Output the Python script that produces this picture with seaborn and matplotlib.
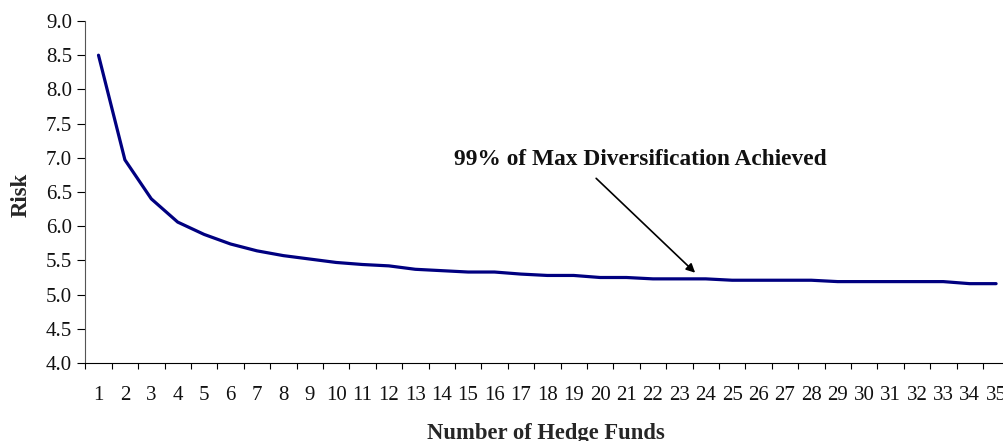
import matplotlib
matplotlib.use("Agg")
import matplotlib.pyplot as plt
import numpy as np
import pandas as pd
import seaborn as sns

# Portfolio risk as the number of hedge funds grows
n_funds = list(range(1, 36))
risk = [8.50, 6.97, 6.40, 6.06, 5.88, 5.74, 5.64, 5.57, 5.52, 5.47,
        5.44, 5.42, 5.37, 5.35, 5.33, 5.33, 5.30, 5.28, 5.28, 5.25,
        5.25, 5.23, 5.23, 5.23, 5.21, 5.21, 5.21, 5.21, 5.19, 5.19,
        5.19, 5.19, 5.19, 5.16, 5.16]
y_ticks = [4.0, 4.5, 5.0, 5.5, 6.0, 6.5, 7.0, 7.5, 8.0, 8.5, 9.0]
note_text = "99% of Max Diversification Achieved"

sns.set_style("white")
plt.rcParams["font.family"] = ["Liberation Serif", "DejaVu Serif"]

df = pd.DataFrame({"pos": np.arange(len(n_funds)), "funds": n_funds, "risk": risk})

fig = plt.figure(figsize=(10.04, 4.41), dpi=100)
W, H = 1004, 441
left_px, bottom_px, top_px = 85.3, 363, 21
cat_w = 26.4
ax_w = cat_w * len(n_funds)
ax_h = bottom_px - top_px
ax = fig.add_axes([left_px / W, 1 - bottom_px / H, ax_w / W, ax_h / H])

sns.lineplot(data=df, x="pos", y="risk", ax=ax, color="#000080",
             linewidth=2.3, legend=False)

ax.set_xlim(-0.5, len(n_funds) - 0.5)
ax.set_ylim(4.0, 9.0)

# category labels sit between the tick marks
ax.set_xticks(np.arange(len(n_funds) + 1) - 0.5)
ax.set_xticklabels([])
ax.set_xticks(np.arange(len(n_funds)), minor=True)
ax.set_xticklabels([str(v) for v in n_funds], minor=True, fontsize=15)
ax.tick_params(axis="x", which="major", direction="out", length=4.5,
               width=0.8, color="black", bottom=True)
ax.tick_params(axis="x", which="minor", length=0, pad=16.5, labelcolor="#111111")

ax.set_yticks(y_ticks)
ax.set_yticklabels([f"{v:.1f}" for v in y_ticks], fontsize=15, color="#111111")
ax.tick_params(axis="y", direction="out", length=5.5, width=0.8,
               color="black", left=True, pad=4)

for s in ["top", "right"]:
    ax.spines[s].set_visible(False)
ax.spines["left"].set_color("#555555")
ax.spines["left"].set_linewidth(0.8)
ax.spines["bottom"].set_color("black")
ax.spines["bottom"].set_linewidth(0.8)

ax.set_xlabel("Number of Hedge Funds", fontsize=16.3, fontweight="bold")
ax.set_ylabel("Risk", fontsize=16.5, fontweight="bold")
ax.xaxis.label.set_verticalalignment("baseline")
ax.xaxis.set_label_coords((546 - left_px) / ax_w, -(439 - bottom_px) / ax_h)
ax.yaxis.label.set_verticalalignment("center")
ax.yaxis.set_label_coords(-(left_px - 21) / ax_w, (bottom_px - 195) / ax_h)

ax.text(20.51, 6.89, note_text, fontsize=16.8, fontweight="bold",
        ha="center", va="baseline", color="#111111")
ax.annotate("", xy=(22.6, 5.32), xytext=(18.85, 6.70),
            arrowprops=dict(arrowstyle="-|>", color="black", lw=1.2,
                            mutation_scale=13, shrinkA=0, shrinkB=0))
ax.grid(False)

fig.savefig("out.png", dpi=100)
